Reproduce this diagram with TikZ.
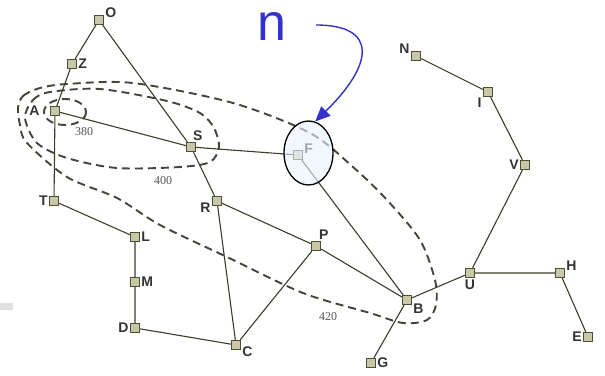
\documentclass[tikz,border=0pt]{standalone}
\usepackage{fontspec}
\setmainfont{Liberation Serif}
\setsansfont{Liberation Sans}
\usetikzlibrary{arrows.meta,shapes.geometric}
\definecolor{Khaki}{HTML}{C8C8A8}
\definecolor{Edge}{HTML}{4E4E36}
\definecolor{Road}{HTML}{3C3C28}
\definecolor{Contour}{HTML}{44443A}
\definecolor{Ink}{HTML}{333333}
\definecolor{Pen}{HTML}{3333CC}
\definecolor{Sky}{HTML}{E8F2FD}

\begin{document}
\begin{tikzpicture}[x=1pt,y=-1pt,
    city/.style={draw=Edge,fill=Khaki,line width=0.9pt,minimum size=9.5pt,
      inner sep=0pt,label distance=1.5pt},
    lab/.style={font=\sffamily\bfseries\fontsize{14}{14}\selectfont,
      text=Ink,inner sep=1pt},
    road/.style={draw=Road,line width=1.1pt},
    contour/.style={draw=Contour,line width=1.9pt,dash pattern=on 8pt off 5pt},
    cost/.style={font=\fontsize{12}{12}\selectfont,text=Ink!85}
  ]
    \useasboundingbox (0,0) rectangle (605,375);
    \fill[black!12] (0,303) rectangle (13,310);

    % f-cost contours
    \draw[contour] (65,112) ellipse [x radius=21, y radius=13];
    \draw[contour] plot[smooth cycle] coordinates {(25,118) (33,100) (50,92)
      (100,89) (167,101) (200,113) (214,128) (219,147) (210,162) (180,167)
      (117,168) (67,158) (37,143)};
    \draw[contour] plot[smooth cycle] coordinates {(18,108) (23,96) (40,88)
      (67,84) (133,83) (233,103) (310,133) (353,167) (387,200) (420,240)
      (435,280) (436,305) (427,320) (403,323) (370,313) (303,293) (227,257)
      (160,225) (117,198) (67,177) (27,143) (20,125)};
    \node[cost] (c380) at (84,132) {380};
    \node[cost] (c400) at (163,181) {400};
    \node[cost] (c420) at (328,317) {420};

    % cities
    \node[city,label={[lab]10:O}] (O) at (99,20) {};
    \node[city,label={[lab]right:Z}] (Z) at (72,64) {};
    \node[city,label={[lab,label distance=9pt]left:A}] (A) at (55,111) {};
    \node[city,label={[lab]80:S}] (S) at (191,147) {};
    \node[city,fill=Khaki!80,label={[lab]5:F}] (F) at (298,155) {};
    \node[city,label={[lab]left:T}] (T) at (54,201) {};
    \node[city,label={[lab]right:L}] (L) at (135,237) {};
    \node[city,label={[lab]right:M}] (M) at (135,282) {};
    \node[city,label={[lab]left:D}] (D) at (135,328) {};
    \node[city,label={[lab]-10:C}] (C) at (236,345) {};
    \node[city,label={[lab]-170:R}] (R) at (217,201) {};
    \node[city,label={[lab]70:P}] (P) at (316,246) {};
    \node[city,label={[lab]-30:B}] (B) at (407,300) {};
    \node[city,label={[lab]right:G}] (G) at (371,363) {};
    \node[city,label={[lab]below:U}] (U) at (470,273) {};
    \node[city,label={[lab]10:H}] (H) at (560,273) {};
    \node[city,label={[lab]left:E}] (E) at (588,337) {};
    \node[city,label={[lab]left:V}] (V) at (525,165) {};
    \node[city,label={[lab]-140:I}] (I) at (488,92) {};
    \node[city,label={[lab]170:N}] (N) at (416,56) {};

    % roads
    \draw[road] (O) -- (Z) (Z) -- (A) (O) -- (S) (A) -- (S) (A) -- (T)
      (S) -- (F) (S) -- (R) (T) -- (L) (L) -- (M) (M) -- (D) (D) -- (C)
      (R) -- (C) (R) -- (P) (P) -- (C) (P) -- (B) (F) -- (B) (B) -- (G)
      (B) -- (U) (U) -- (H) (H) -- (E) (U) -- (V) (V) -- (I) (I) -- (N);

    % node being expanded
    \node[ellipse,draw=black,line width=1.3pt,fill=Sky,fill opacity=0.6,
      minimum width=49pt,minimum height=64pt] (fringe) at (308.5,153) {};
    \node[font=\sffamily\fontsize{52}{52}\selectfont,text=Pen,anchor=base,
      inner sep=0pt] (n) at (271.5,40) {n};
    \coordinate (tail) at (316,25);
    \draw[Pen,line width=1.4pt,-{Triangle[length=15pt,width=13pt]}]
      (tail) .. controls (378,25) and (374,64) .. (fringe.78);
\end{tikzpicture}
\end{document}
